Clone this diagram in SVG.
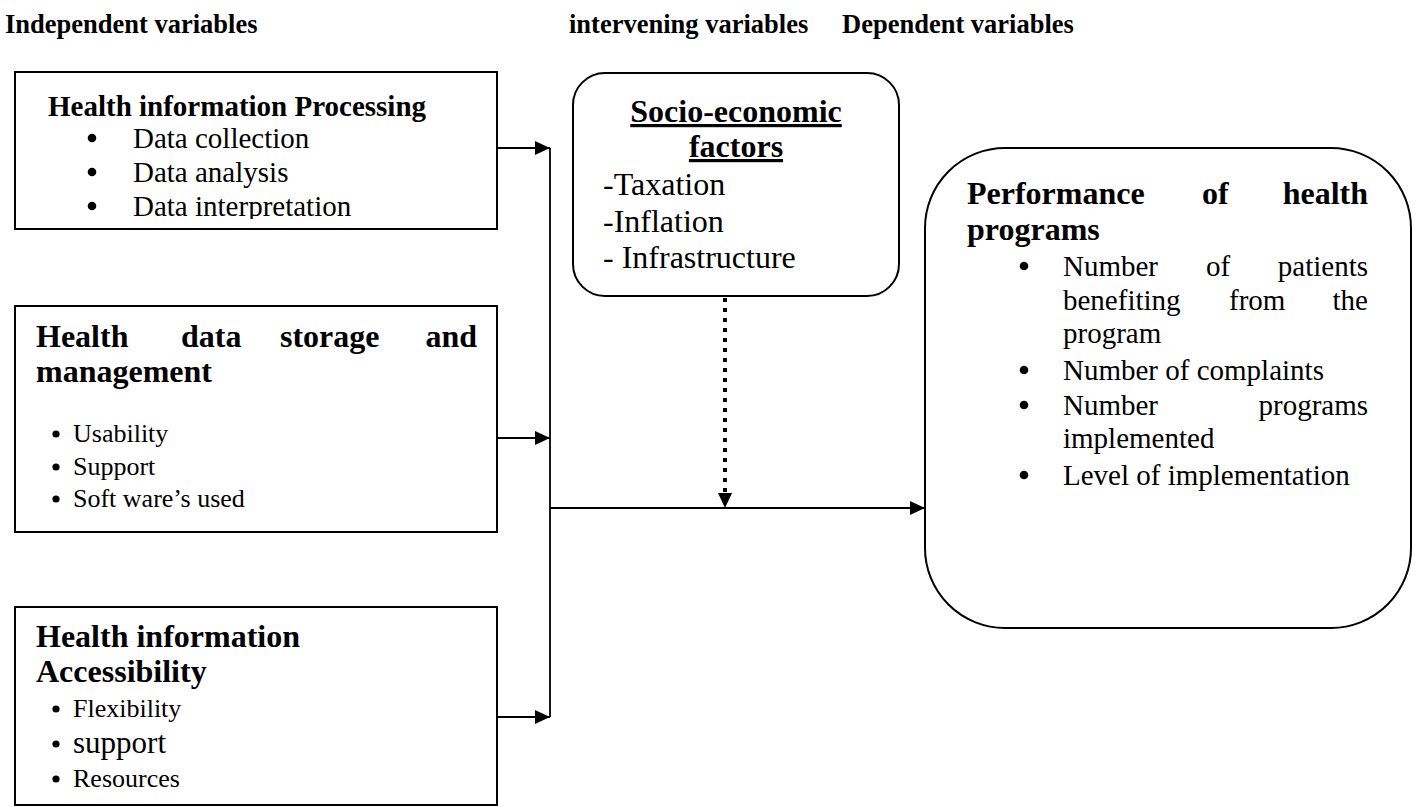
<svg xmlns="http://www.w3.org/2000/svg" width="1415" height="807" viewBox="0 0 1415 807" font-family="'Liberation Serif', 'Times New Roman', Tinos, Times, serif">
<style>
text{font-family:'Liberation Serif','Times New Roman',Tinos,Times,serif;fill:#000}
.h{font-weight:bold;font-size:26.5px}
.t29b{font-weight:bold;font-size:29px}
.t32b{font-weight:bold;font-size:32px}
.t29{font-size:29px}
.t26{font-size:26px}
.t31{font-size:31px}
.t32{font-size:32px}
.box{fill:#fff;stroke:#000;stroke-width:2}
.ln{fill:none;stroke:#000;stroke-width:1.8}
.dot{fill:none;stroke:#000;stroke-width:4;stroke-dasharray:4 6}
.b{fill:#000}
</style>
<defs>
<marker id="ah" markerUnits="userSpaceOnUse" viewBox="0 0 15 14" refX="15" refY="7" markerWidth="15" markerHeight="14" orient="auto">
<path d="M0,0 L15,7 L0,14 Z" fill="#000"/>
</marker>
<clipPath id="c1"><rect x="15" y="72" width="482" height="147"/></clipPath>
</defs>
<rect width="1415" height="807" fill="#fff"/>
<g id="headings">
<text class="h" x="5" y="33">Independent variables</text>
<text class="h" x="569" y="33">intervening variables</text>
<text class="h" x="842" y="33">Dependent variables</text>
</g>
<g id="node-processing">
<rect class="box" x="15" y="72" width="482" height="157"/>
<text class="t29b" x="48" y="116">Health information Processing</text>
<circle class="b" cx="92" cy="138" r="4.3"/>
<circle class="b" cx="92" cy="172" r="4.3"/>
<circle class="b" cx="92" cy="206" r="4.3"/>
<g clip-path="url(#c1)">
<text class="t29" x="133" y="148">Data collection</text>
<text class="t29" x="133" y="182">Data analysis</text>
<text class="t29" x="133" y="216">Data interpretation</text>
</g>
</g>
<g id="node-storage">
<rect class="box" x="15" y="306" width="482" height="226"/>
<text class="t32b" x="36" y="347">Health</text>
<text class="t32b" x="181" y="347">data</text>
<text class="t32b" x="280" y="347">storage</text>
<text class="t32b" x="477" y="347" text-anchor="end">and</text>
<text class="t32b" x="36" y="382">management</text>
<circle class="b" cx="56" cy="434" r="3.6"/><text class="t26" x="73" y="442">Usability</text>
<circle class="b" cx="56" cy="467" r="3.6"/><text class="t26" x="73" y="475">Support</text>
<circle class="b" cx="56" cy="499" r="3.6"/><text class="t26" x="73" y="507">Soft ware’s used</text>
</g>
<g id="node-accessibility">
<rect class="box" x="15" y="607" width="482" height="198"/>
<text class="t32b" x="36" y="647">Health information</text>
<text class="t32b" x="36" y="682">Accessibility</text>
<circle class="b" cx="56" cy="709" r="3.6"/><text class="t26" x="73" y="717">Flexibility</text>
<circle class="b" cx="56" cy="744" r="3.6"/><text class="t31" x="73" y="753">support</text>
<circle class="b" cx="56" cy="779" r="3.6"/><text class="t26" x="73" y="787">Resources</text>
</g>
<g id="node-socio">
<rect class="box" x="573" y="73" width="326" height="223" rx="32" ry="32"/>
<text class="t32b" x="736" y="122" text-anchor="middle" text-decoration="underline">Socio-economic</text>
<text class="t32b" x="736" y="157" text-anchor="middle" text-decoration="underline">factors</text>
<text class="t32" x="603" y="195">-Taxation</text>
<text class="t32" x="603" y="232">-Inflation</text>
<text class="t32" x="603" y="268">- Infrastructure</text>
</g>
<g id="node-performance">
<rect class="box" x="925" y="148" width="486" height="480" rx="80" ry="80"/>
<text class="t32b" x="967" y="204">Performance</text>
<text class="t32b" x="1202" y="204">of</text>
<text class="t32b" x="1368" y="204" text-anchor="end">health</text>
<text class="t32b" x="967" y="240">programs</text>
<circle class="b" cx="1024" cy="266" r="4.3"/>
<text class="t29" x="1063" y="276">Number</text>
<text class="t29" x="1206" y="276">of</text>
<text class="t29" x="1368" y="276" text-anchor="end">patients</text>
<text class="t29" x="1063" y="310">benefiting</text>
<text class="t29" x="1229" y="310">from</text>
<text class="t29" x="1368" y="310" text-anchor="end">the</text>
<text class="t29" x="1063" y="343">program</text>
<circle class="b" cx="1024" cy="370" r="4.3"/>
<text class="t29" x="1063" y="380">Number of complaints</text>
<circle class="b" cx="1024" cy="405" r="4.3"/>
<text class="t29" x="1063" y="415">Number</text>
<text class="t29" x="1368" y="415" text-anchor="end">programs</text>
<text class="t29" x="1063" y="448">implemented</text>
<circle class="b" cx="1024" cy="475" r="4.3"/>
<text class="t29" x="1063" y="485">Level of implementation</text>
</g>
<g id="connectors">
<line class="ln" x1="497" y1="148" x2="550" y2="148" marker-end="url(#ah)"/>
<line class="ln" x1="497" y1="438" x2="550" y2="438" marker-end="url(#ah)"/>
<line class="ln" x1="497" y1="717" x2="550" y2="717" marker-end="url(#ah)"/>
<line class="ln" x1="550" y1="148" x2="550" y2="717"/>
<line class="ln" x1="550" y1="508" x2="925" y2="508" marker-end="url(#ah)"/>
<line class="dot" x1="725" y1="298" x2="725" y2="508" marker-end="url(#ah)"/>
</g>
</svg>
